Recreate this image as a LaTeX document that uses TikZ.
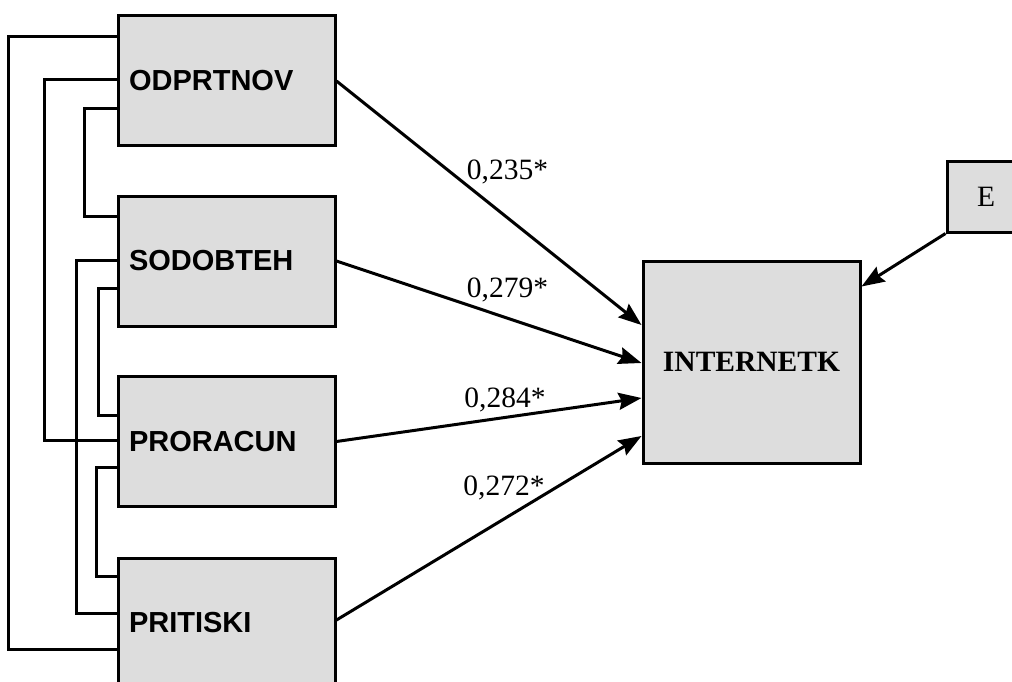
\documentclass[tikz,border=0pt]{standalone}
\usepackage{fontspec}
\setmainfont{Liberation Serif}
\newfontfamily\boxfont{Liberation Sans}
\usetikzlibrary{arrows.meta}
\definecolor{boxgray}{RGB}{221,221,221}
\tikzset{
  varbox/.style={draw=black, line width=3pt, fill=boxgray, minimum width=217pt,
    minimum height=130pt, text width=195pt, inner xsep=11pt, align=left,
    font=\boxfont\bfseries\fontsize{29}{34}\selectfont},
  conn/.style={line width=3pt, line join=miter},
  path/.style={line width=3pt, -{Stealth[length=23pt,width=17pt,inset=3pt]}},
  coef/.style={font=\fontsize{29.5}{34}\selectfont, inner sep=0pt}
}
\begin{document}
\begin{tikzpicture}[x=1pt,y=-1pt]
\useasboundingbox (0,0) rectangle (1012,682);
\clip (0,0) rectangle (1012,682);
\node[varbox] (odp) at (226.5,81) {ODPRTNOV};
\node[varbox] (sod) at (226.5,261) {SODOBTEH};
\node[varbox] (pro) at (226.5,441.5) {PRORACUN};
\node[varbox] (pri) at (226.5,623) {PRITISKI};
\node[draw=black, line width=3pt, fill=boxgray, minimum width=217pt, minimum height=202pt,
  font=\bfseries\fontsize{29.5}{34}\selectfont] (int) at (751.5,362) {INTERNETK};
\node[draw=black, line width=3pt, fill=boxgray, minimum width=78pt, minimum height=70pt,
  font=\fontsize{29.5}{34}\selectfont] (e) at (986,197) {E};
% correlations (left)
\draw[conn] ([yshift=-22pt]odp.north west) -- ++(-108,0) |- ([yshift=-93pt]pri.north west);
\draw[conn] ([yshift=-65pt]odp.north west) -- ++(-72,0) |- ([yshift=-65pt]pro.north west);
\draw[conn] ([yshift=-94pt]odp.north west) -- ++(-32,0) |- ([yshift=-22pt]sod.north west);
\draw[conn] ([yshift=-66pt]sod.north west) -- ++(-40,0) |- ([yshift=-57pt]pri.north west);
\draw[conn] ([yshift=-94pt]sod.north west) -- ++(-18,0) |- ([yshift=-40pt]pro.north west);
\draw[conn] ([yshift=-92pt]pro.north west) -- ++(-20,0) |- ([yshift=-20pt]pri.north west);
% paths
\draw[path] (odp.east) -- ([yshift=37pt]int.west);
\draw[path] (sod.east) -- ([yshift=-1pt]int.west);
\draw[path] (pro.east) -- ([yshift=-36pt]int.west);
\draw[path] ([yshift=3pt]pri.east) -- ([yshift=-74pt]int.west);
\draw[path] (e.south west) -- ([yshift=-27pt]int.north east);
% coefficients
\node[coef] (c1) at (507.5,172) {0,235*};
\node[coef] (c2) at (507.5,290) {0,279*};
\node[coef] (c3) at (505,400) {0,284*};
\node[coef] (c4) at (504,488) {0,272*};
\end{tikzpicture}
\end{document}
